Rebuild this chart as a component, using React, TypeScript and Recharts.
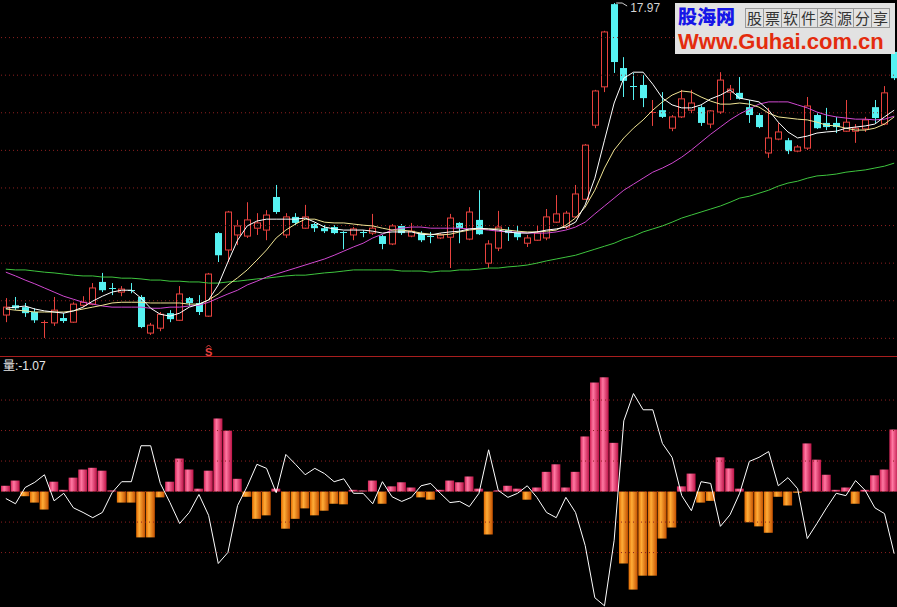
import React from "react";
import {
    ComposedChart,
    Bar,
    Line,
    XAxis,
    YAxis,
    ReferenceLine,
    ReferenceDot,
} from "recharts";

// daily candles, left to right
const open = [
    9.67, 9.93, 9.88, 9.75, 9.48, 9.46, 9.59, 9.48, 9.93, 9.96,
    10.55, 10.39, 10.28, 10.33, 10.15, 9.19, 9.32, 9.72, 9.53, 10.12,
    9.99, 9.64, 11.85, 11.4, 11.8, 11.77, 11.98, 11.93, 12.81, 11.8,
    12.28, 11.98, 12.09, 11.98, 12.01, 11.88, 11.8, 11.88, 11.85, 11.77,
    11.56, 12.04, 11.77, 11.85, 11.77, 11.72, 11.74, 12.12, 11.69, 12.2,
    11.05, 11.45, 11.93, 11.88, 11.58, 11.66, 11.72, 12.14, 12.01, 12.28,
    12.75, 14.72, 15.74, 17.94, 16.24, 15.76, 15.79, 15.04, 15.12, 14.64,
    14.94, 15.12, 15.2, 14.75, 15.07, 15.6, 15.58, 15.2, 14.99, 13.98,
    14.35, 14.32, 14.03, 14.11, 14.99, 14.78, 14.78, 14.56, 14.56, 14.62,
    15.2, 14.75, 16.67,
];
const high = [
    10.12, 10.15, 9.99, 9.85, 9.53, 10.15, 9.72, 10.01, 10.17, 10.52,
    10.79, 10.52, 10.44, 10.52, 10.2, 9.46, 9.75, 9.8, 10.44, 10.15,
    10.2, 10.79, 11.88, 12.44, 12.2, 12.67, 12.38, 12.46, 13.13, 12.38,
    12.38, 12.6, 12.12, 12.06, 12.06, 11.9, 12.01, 11.93, 12.36, 11.8,
    12.09, 12.09, 12.12, 11.9, 11.88, 11.85, 12.36, 12.14, 12.54, 12.99,
    11.66, 12.44, 12.01, 12.06, 11.8, 12.06, 12.49, 12.86, 12.44, 13.13,
    14.22, 15.66, 17.23, 17.97, 16.53, 16.11, 16.05, 15.39, 15.6, 14.99,
    15.66, 15.66, 15.25, 15.12, 16.13, 15.79, 16.0, 15.39, 15.04, 15.18,
    14.78, 14.38, 14.19, 15.47, 15.04, 15.18, 14.94, 15.39, 14.75, 14.94,
    15.39, 15.76, 16.72,
];
const low = [
    9.48, 9.8, 9.62, 9.46, 9.06, 9.38, 9.46, 9.46, 9.88, 9.93,
    10.28, 10.2, 10.17, 10.25, 9.32, 9.14, 9.24, 9.48, 9.51, 9.91,
    9.67, 9.62, 11.08, 11.08, 11.53, 11.72, 11.8, 11.66, 12.36, 11.72,
    12.06, 11.96, 11.88, 11.85, 11.82, 11.42, 11.66, 11.74, 11.8, 11.42,
    11.53, 11.8, 11.74, 11.61, 11.58, 11.69, 10.92, 11.58, 11.66, 11.8,
    10.92, 11.37, 11.64, 11.66, 11.48, 11.64, 11.66, 12.12, 11.96, 12.25,
    12.73, 14.64, 15.6, 16.11, 15.47, 15.39, 15.2, 14.7, 14.91, 14.56,
    14.91, 15.04, 14.7, 14.64, 15.02, 15.39, 15.4, 14.78, 14.64, 13.85,
    14.32, 13.95, 14.0, 14.06, 14.62, 14.59, 14.51, 14.54, 14.25, 14.54,
    14.78, 14.72, 15.92,
];
const close = [
    9.88, 9.85, 9.72, 9.53, 9.48, 9.8, 9.51, 9.96, 10.01, 10.39,
    10.33, 10.36, 10.36, 10.31, 9.35, 9.4, 9.69, 9.56, 10.23, 9.99,
    9.75, 10.76, 11.26, 12.41, 12.04, 12.2, 12.12, 12.33, 12.41, 12.28,
    12.12, 12.28, 11.98, 11.9, 11.85, 11.85, 11.96, 11.85, 11.98, 11.56,
    12.04, 11.85, 11.9, 11.66, 11.74, 11.8, 12.25, 11.98, 12.41, 11.82,
    11.56, 12.01, 11.85, 11.74, 11.72, 11.85, 12.28, 12.36, 12.38, 12.89,
    14.19, 15.63, 17.2, 16.4, 15.9, 15.74, 15.44, 15.07, 14.94, 14.94,
    15.42, 15.31, 14.78, 15.1, 15.92, 15.68, 15.42, 14.99, 14.67, 14.38,
    14.54, 14.03, 14.14, 15.23, 14.64, 14.67, 14.67, 14.8, 14.64, 14.86,
    14.91, 15.58, 15.97,
];

// moving averages
const ma5 = [
    9.85, 9.88, 9.91, 9.83, 9.78, 9.75, 9.72, 9.78, 9.88, 10.04,
    10.17, 10.28, 10.33, 10.33, 10.12, 9.85, 9.69, 9.64, 9.72, 9.88,
    9.96, 10.07, 10.47, 11.08, 11.66, 12.04, 12.17, 12.22, 12.22, 12.22,
    12.22, 12.25, 12.14, 12.01, 11.96, 11.93, 11.93, 11.93, 11.9, 11.85,
    11.88, 11.88, 11.88, 11.82, 11.8, 11.85, 11.88, 11.9, 11.96, 11.98,
    11.96, 11.93, 11.88, 11.85, 11.85, 11.88, 11.93, 11.96, 12.01, 12.14,
    12.6, 13.31, 14.32, 15.31, 15.97, 16.13, 16.13, 15.81, 15.44, 15.26,
    15.18, 15.18, 15.26, 15.42, 15.52, 15.66, 15.44, 15.39, 15.34, 15.12,
    14.8, 14.54, 14.38, 14.43, 14.51, 14.54, 14.56, 14.64, 14.67, 14.7,
    14.75, 14.94, 15.12,
];
const ma10 = [
    9.83, 9.8, 9.78, 9.75, 9.75, 9.75, 9.75, 9.78, 9.83, 9.88,
    9.93, 9.99, 10.01, 10.01, 10.01, 9.99, 9.99, 9.99, 9.99, 9.96,
    9.96, 10.07, 10.23, 10.47, 10.66, 10.87, 11.13, 11.4, 11.72, 11.93,
    12.09, 12.22, 12.22, 12.14, 12.12, 12.12, 12.09, 12.06, 12.04, 11.98,
    11.93, 11.93, 11.9, 11.85, 11.82, 11.8, 11.82, 11.88, 11.93, 11.96,
    11.96, 11.96, 11.93, 11.9, 11.88, 11.88, 11.9, 11.93, 12.06, 12.25,
    12.54, 12.99, 13.58, 14.06, 14.38, 14.64, 14.86, 15.12, 15.34, 15.52,
    15.63, 15.6, 15.47, 15.36, 15.28, 15.28, 15.31, 15.28, 15.2, 15.04,
    14.94, 14.91, 14.88, 14.86, 14.8, 14.72, 14.7, 14.64, 14.59, 14.59,
    14.64, 14.75, 14.94,
];
const ma20 = [
    10.81, 10.71, 10.6, 10.5, 10.39, 10.28, 10.17, 10.09, 10.01, 9.96,
    9.91, 9.88, 9.88, 9.88, 9.88, 9.85, 9.85, 9.88, 9.88, 9.91,
    9.93, 10.01, 10.12, 10.23, 10.33, 10.47, 10.57, 10.68, 10.76, 10.84,
    10.92, 11.0, 11.08, 11.16, 11.26, 11.37, 11.48, 11.58, 11.72, 11.82,
    11.93, 11.98, 12.01, 12.01, 11.98, 11.98, 11.98, 11.98, 11.96, 11.96,
    11.93, 11.9, 11.88, 11.88, 11.85, 11.85, 11.85, 11.88, 11.93, 12.01,
    12.14, 12.36, 12.57, 12.78, 12.99, 13.15, 13.31, 13.47, 13.58, 13.71,
    13.87, 14.06, 14.27, 14.48, 14.67, 14.86, 15.02, 15.15, 15.28, 15.34,
    15.34, 15.34, 15.26, 15.18, 15.07, 14.99, 14.94, 14.91, 14.88, 14.88,
    14.86, 14.88, 14.96,
];
const ma60 = [
    10.89, 10.87, 10.87, 10.84, 10.81, 10.79, 10.76, 10.73, 10.71, 10.71,
    10.68, 10.68, 10.65, 10.65, 10.63, 10.6, 10.6, 10.57, 10.57, 10.55,
    10.55, 10.52, 10.52, 10.55, 10.57, 10.6, 10.63, 10.65, 10.68, 10.71,
    10.73, 10.73, 10.76, 10.79, 10.81, 10.84, 10.87, 10.87, 10.87, 10.87,
    10.87, 10.84, 10.84, 10.84, 10.81, 10.84, 10.84, 10.87, 10.87, 10.89,
    10.92, 10.92, 10.95, 10.97, 11.0, 11.05, 11.11, 11.16, 11.21, 11.26,
    11.34, 11.42, 11.5, 11.58, 11.69, 11.77, 11.88, 11.96, 12.04, 12.14,
    12.25, 12.33, 12.41, 12.49, 12.57, 12.67, 12.78, 12.83, 12.91, 12.99,
    13.1, 13.18, 13.23, 13.31, 13.37, 13.39, 13.42, 13.47, 13.5, 13.53,
    13.58, 13.63, 13.71,
];

// 量 panel
const qtyBar = [
    0.1, 0.19, -0.08, -0.19, -0.31, 0.17, 0.03, 0.24, 0.38, 0.41,
    0.36, 0.02, -0.19, -0.19, -0.79, -0.79, -0.1, 0.17, 0.57, 0.38,
    0.05, 0.36, 1.26, 1.05, 0.22, -0.09, -0.47, -0.41, 0.05, -0.64,
    -0.47, -0.29, -0.41, -0.33, -0.21, -0.22, 0.03, 0.02, 0.19, -0.21,
    0.09, 0.16, 0.07, -0.1, -0.14, 0.03, 0.19, 0.16, 0.26, 0.05,
    -0.74, 0.02, 0.1, 0.05, -0.14, 0.07, 0.34, 0.47, 0.07, 0.34,
    0.95, 1.88, 1.97, 0.84, -1.24, -1.69, -1.45, -1.45, -0.81, -0.62,
    0.09, 0.31, -0.19, -0.16, 0.59, 0.4, 0.05, -0.53, -0.6, -0.71,
    -0.09, -0.24, -0.02, 0.83, 0.55, 0.29, 0.03, 0.07, -0.21, 0.03,
    0.28, 0.38, 1.07,
];
const qtyLine = [
    -0.12, -0.21, 0.07, 0.16, 0.29, -0.16, -0.03, -0.28, -0.36, -0.45,
    -0.36, -0.02, 0.17, 0.17, 0.79, 0.79, 0.14, -0.19, -0.55, -0.36,
    -0.05, -0.41, -1.24, -1.05, -0.24, 0.09, 0.47, 0.4, -0.02, 0.64,
    0.47, 0.29, 0.4, 0.31, 0.17, 0.22, -0.03, -0.03, -0.21, 0.17,
    -0.09, -0.17, -0.1, 0.1, 0.14, -0.03, -0.19, -0.17, -0.26, -0.03,
    0.72, 0.02, -0.1, -0.03, 0.1, -0.1, -0.36, -0.45, -0.1, -0.36,
    -0.93, -1.83, -1.97, -0.84, 1.22, 1.69, 1.41, 1.41, 0.83, 0.59,
    -0.07, -0.33, 0.17, 0.14, -0.6, -0.4, -0.03, 0.52, 0.59, 0.69,
    0.1, 0.24, 0.05, -0.81, -0.55, -0.28, -0.03, -0.07, 0.19, 0.02,
    -0.28, -0.38, -1.07,
];

const signalAt = [21];
const priceGrid = [17.05, 16.05, 15.05, 14.05, 13.05, 12.05, 11.05, 10.05, 9.05];
const qtyGrid = [1.578, 1.052, 0.526, 0, -0.526, -1.052];

const rows = open.map((o, i) => ({
    i,
    open: o,
    high: high[i],
    low: low[i],
    close: close[i],
    ma5: ma5[i],
    ma10: ma10[i],
    ma20: ma20[i],
    ma60: ma60[i],
    bar: qtyBar[i],
    line: qtyLine[i],
}));

const peak = high.indexOf(Math.max(...high));

const UP = "#e8423e";
const DOWN = "#56f2f2";
const GRID = "#8e2020";
const PRICE_MIN = 8.58;
const PRICE_MAX = 18.05;

const candleRange = (d: any) => [d.low, d.high];

function Candle(props: any) {
    const { x, y, width, height, payload } = props;
    if (!payload) return null;
    const top = Math.min(y, y + height);
    const span = Math.abs(height);
    const range = payload.high - payload.low || 1;
    const py = (v: number) => top + ((payload.high - v) / range) * span;
    const up = payload.close >= payload.open;
    const color = up ? UP : DOWN;
    const cx = Math.round(x + width / 2);
    const wx = cx + 0.5;
    const bTop = py(Math.max(payload.open, payload.close));
    const bBot = py(Math.min(payload.open, payload.close));
    const bottom = top + span;

    if (bBot - bTop < 1.2) {
        const yy = Math.round(bTop) + 0.5;
        return (
            <g>
                <line x1={wx} x2={wx} y1={top} y2={bottom} stroke={color} />
                <line x1={cx - 3} x2={cx + 4} y1={yy} y2={yy} stroke={color} />
            </g>
        );
    }
    if (up) {
        return (
            <g>
                <line x1={wx} x2={wx} y1={top} y2={bTop} stroke={color} />
                <line x1={wx} x2={wx} y1={bBot} y2={bottom} stroke={color} />
                <rect
                    x={cx - 2.5}
                    y={bTop}
                    width={6}
                    height={bBot - bTop}
                    fill="#000"
                    stroke={color}
                />
            </g>
        );
    }
    return (
        <g>
            <line x1={wx} x2={wx} y1={top} y2={bottom} stroke={color} />
            <rect x={cx - 3} y={bTop} width={7} height={bBot - bTop} fill={color} />
        </g>
    );
}

function PeakMark(props: any) {
    const { cx, cy } = props;
    return (
        <g>
            <polyline
                points={`${cx + 2},${cy} ${cx + 8},${cy} ${cx + 13},${cy + 3}`}
                fill="none"
                stroke="#cfcfcf"
            />
            <text
                x={cx + 16}
                y={cy + 8.5}
                fill="#d4d4d4"
                fontSize={12}
                fontFamily="'Liberation Sans', Arial, sans-serif"
            >
                {high[peak].toFixed(2)}
            </text>
        </g>
    );
}

function SignalMark(props: any) {
    const { cx, cy } = props;
    return (
        <g>
            <polyline
                points={`${cx - 2.5},${cy - 8.5} ${cx},${cy - 11} ${cx + 2.5},${cy - 8.5}`}
                fill="none"
                stroke={UP}
            />
            <text
                x={cx}
                y={cy - 0.5}
                textAnchor="middle"
                fill={UP}
                fontSize={11}
                fontWeight="bold"
                fontFamily="'Liberation Sans', Arial, sans-serif"
            >
                S
            </text>
        </g>
    );
}

function QtyBar(props: any) {
    const { x, y, width, height, payload } = props;
    if (!payload) return null;
    const top = Math.min(y, y + height);
    const h = Math.max(1, Math.abs(height));
    return (
        <rect
            x={x}
            y={top}
            width={width}
            height={h}
            fill={payload.bar >= 0 ? "url(#qtyPos)" : "url(#qtyNeg)"}
        />
    );
}

function Watermark() {
    const cells = "股票软件资源分享".split("");
    return (
        <div
            style={{
                position: "absolute",
                left: 675,
                top: 3,
                width: 220,
                height: 51,
                background: "#e2e2e2",
            }}
        >
            <div
                style={{
                    position: "absolute",
                    left: 3,
                    top: 3,
                    fontFamily: "'Noto Sans CJK SC'",
                    fontWeight: 900,
                    fontSize: 19,
                    lineHeight: "19px",
                    height: 19,
                    color: "#1616e8",
                }}
            >
                股海网
            </div>
            <div style={{ position: "absolute", left: 70, top: 5, display: "flex" }}>
                {cells.map((ch, k) => (
                    <div
                        key={k}
                        style={{
                            width: 17,
                            height: 18,
                            borderLeft: "1px solid #9a9a9a",
                            borderTop: "1px solid #9a9a9a",
                            borderBottom: "1px solid #9a9a9a",
                            borderRight: k === cells.length - 1 ? "1px solid #9a9a9a" : "none",
                            fontFamily: "'Noto Sans CJK SC'",
                            fontSize: 15,
                            lineHeight: "18px",
                            textAlign: "center",
                            color: "#333",
                        }}
                    >
                        {ch}
                    </div>
                ))}
            </div>
            <div
                style={{
                    position: "absolute",
                    left: 3,
                    top: 28,
                    fontFamily: "'Liberation Sans', Arial, sans-serif",
                    fontWeight: "bold",
                    fontSize: 22,
                    lineHeight: "22px",
                    height: 22,
                    color: "#e42c0e",
                    whiteSpace: "nowrap",
                }}
            >
                Www.Guhai.com.cn
            </div>
        </div>
    );
}

export default function App() {
    return (
        <div
            style={{
                position: "absolute",
                left: 0,
                top: 0,
                width: 897,
                height: 607,
                background: "#000",
                overflow: "hidden",
            }}
        >
            <div style={{ position: "absolute", left: 0, top: 0 }}>
                <ComposedChart
                    width={899}
                    height={356}
                    data={rows}
                    margin={{ top: 0, right: 0, bottom: 0, left: 1 }}
                >
                    <XAxis dataKey="i" hide />
                    <YAxis hide domain={[PRICE_MIN, PRICE_MAX]} allowDataOverflow />
                    {priceGrid.map((v) => (
                        <ReferenceLine
                            key={v}
                            y={v}
                            stroke={GRID}
                            strokeDasharray="1 3"
                        />
                    ))}
                    <Bar
                        dataKey={candleRange}
                        barSize={7}
                        shape={<Candle />}
                        isAnimationActive={false}
                    />
                    <Line
                        dataKey="ma60"
                        stroke="#3ec43e"
                        dot={false}
                        activeDot={false}
                        isAnimationActive={false}
                    />
                    <Line
                        dataKey="ma20"
                        stroke="#d048d0"
                        dot={false}
                        activeDot={false}
                        isAnimationActive={false}
                    />
                    <Line
                        dataKey="ma10"
                        stroke="#f0e494"
                        dot={false}
                        activeDot={false}
                        isAnimationActive={false}
                    />
                    <Line
                        dataKey="ma5"
                        stroke="#ffffff"
                        dot={false}
                        activeDot={false}
                        isAnimationActive={false}
                    />
                    <ReferenceDot
                        x={peak}
                        y={high[peak]}
                        ifOverflow="visible"
                        shape={PeakMark}
                    />
                    {signalAt.map((k) => (
                        <ReferenceDot
                            key={k}
                            x={k}
                            y={PRICE_MIN}
                            ifOverflow="visible"
                            shape={SignalMark}
                        />
                    ))}
                </ComposedChart>
            </div>

            <div
                style={{
                    position: "absolute",
                    left: 0,
                    top: 356,
                    width: 897,
                    height: 1,
                    background: "#a81e1e",
                }}
            />

            <div style={{ position: "absolute", left: 0, top: 357 }}>
                <ComposedChart
                    width={899}
                    height={250}
                    data={rows}
                    margin={{ top: 0, right: 0, bottom: 0, left: 1 }}
                >
                    <defs>
                        <linearGradient id="qtyPos" x1="0" x2="1" y1="0" y2="0">
                            <stop offset="0%" stopColor="#d42458" />
                            <stop offset="35%" stopColor="#ff78a2" />
                            <stop offset="100%" stopColor="#bc1246" />
                        </linearGradient>
                        <linearGradient id="qtyNeg" x1="0" x2="1" y1="0" y2="0">
                            <stop offset="0%" stopColor="#e06800" />
                            <stop offset="35%" stopColor="#ffad38" />
                            <stop offset="100%" stopColor="#c45000" />
                        </linearGradient>
                    </defs>
                    <XAxis dataKey="i" hide />
                    <YAxis hide domain={[-1.99, 2.32]} allowDataOverflow />
                    {qtyGrid.map((v) => (
                        <ReferenceLine
                            key={v}
                            y={v}
                            stroke={GRID}
                            strokeDasharray="1 3"
                        />
                    ))}
                    <Bar
                        dataKey="bar"
                        barSize={9}
                        shape={<QtyBar />}
                        isAnimationActive={false}
                    />
                    <Line
                        dataKey="line"
                        type="linear"
                        stroke="#ffffff"
                        dot={false}
                        activeDot={false}
                        isAnimationActive={false}
                    />
                </ComposedChart>
            </div>

            <div
                style={{
                    position: "absolute",
                    left: 3,
                    top: 358,
                    fontFamily: "'Liberation Sans', 'Noto Sans CJK SC', sans-serif",
                    fontSize: 12,
                    lineHeight: "16px",
                    color: "#e8e8e8",
                    whiteSpace: "nowrap",
                }}
            >
                量:{qtyLine[qtyLine.length - 1].toFixed(2)}
            </div>

            <Watermark />
        </div>
    );
}
